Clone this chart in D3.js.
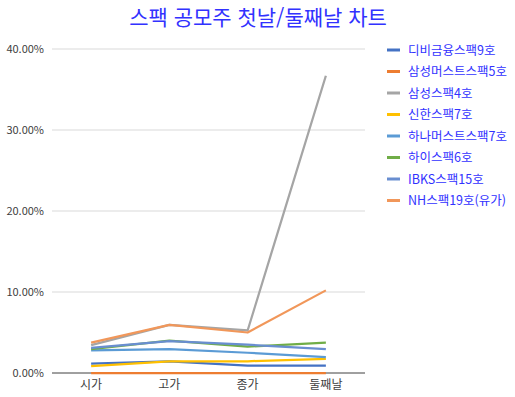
<!DOCTYPE html>
<html lang="ko">
<head>
<meta charset="UTF-8">
<title>스팩 공모주 첫날/둘째날 차트</title>
<script src="https://d3js.org/d3.v7.min.js"></script>
<style>
    body { margin: 0; background: #fff; }
    svg text { font-family: "Noto Sans CJK KR", "Noto Sans", sans-serif; }
</style>
</head>
<body>
<svg id="viz"></svg>
<script>
    // data (percent)
    var categories = ['시가', '고가', '종가', '둘째날'];
    var seriesNames = ['디비금융스팩9호', '삼성머스트스팩5호', '삼성스팩4호', '신한스팩7호',
        '하나머스트스팩7호', '하이스팩6호', 'IBKS스팩15호', 'NH스팩19호(유가)'];
    var db9 = [1.15, 1.45, 0.9, 0.9];
    var samsungMust5 = [0, 0, 0, 0];
    var samsung4 = [3.45, 5.95, 5.25, 36.7];
    var shinhan7 = [0.85, 1.45, 1.45, 1.75];
    var hanaMust7 = [2.8, 2.95, 2.5, 1.95];
    var hi6 = [2.95, 4.0, 3.25, 3.75];
    var ibks15 = [3.1, 3.95, 3.5, 2.95];
    var nh19 = [3.75, 5.95, 5.0, 10.2];
    var yTicks = [0, 10, 20, 30, 40];
    var colors = ['#4472C4', '#ED7D31', '#A5A5A5', '#FFC000', '#5B9BD5', '#70AD47', '#698ED0', '#F1975A'];

    var allSeries = [db9, samsungMust5, samsung4, shinhan7, hanaMust7, hi6, ibks15, nh19];

    var width = 515, height = 397;
    var svg = d3.select('#viz').attr('width', width).attr('height', height);

    var plotLeft = 52, plotRight = 365, plotTop = 49, plotBottom = 373;

    var x = d3.scalePoint().domain(categories).range([plotLeft, plotRight]).padding(0.5);
    var y = d3.scaleLinear().domain([0, 40]).range([plotBottom, plotTop]);

    // title
    svg.append('text')
        .attr('x', 258).attr('y', 25)
        .attr('text-anchor', 'middle')
        .attr('font-size', 21)
        .attr('fill', '#3232FF')
        .text('스팩 공모주 첫날/둘째날 차트');

    // gridlines
    svg.selectAll('.grid')
        .data(yTicks.filter(function (d) { return d > 0; }))
        .enter().append('line')
        .attr('x1', plotLeft).attr('x2', plotRight)
        .attr('y1', function (d) { return y(d); })
        .attr('y2', function (d) { return y(d); })
        .attr('stroke', '#D9D9D9').attr('stroke-width', 1);

    // y labels
    svg.selectAll('.ylab')
        .data(yTicks)
        .enter().append('text')
        .attr('x', 44)
        .attr('y', function (d) { return y(d) + 4; })
        .attr('text-anchor', 'end')
        .attr('font-size', 11)
        .attr('fill', '#404040')
        .text(function (d) { return d.toFixed(2) + '%'; });

    // x labels
    svg.selectAll('.xlab')
        .data(categories)
        .enter().append('text')
        .attr('x', function (d) { return x(d); })
        .attr('y', 389)
        .attr('text-anchor', 'middle')
        .attr('font-size', 12)
        .attr('fill', '#404040')
        .text(function (d) { return d; });

    // baseline
    svg.append('line')
        .attr('x1', plotLeft).attr('x2', plotRight)
        .attr('y1', y(0)).attr('y2', y(0))
        .attr('stroke', '#404040').attr('stroke-width', 1);

    var line = d3.line()
        .x(function (d, i) { return x(categories[i]); })
        .y(function (d) { return y(d); });

    svg.selectAll('.series')
        .data(allSeries)
        .enter().append('path')
        .attr('d', line)
        .attr('fill', 'none')
        .attr('stroke', function (d, i) { return colors[i]; })
        .attr('stroke-width', 2.25)
        .attr('stroke-linejoin', 'round');

    // legend
    var legend = svg.selectAll('.legend')
        .data(seriesNames)
        .enter().append('g')
        .attr('transform', function (d, i) { return 'translate(387,' + (50 + i * 21.5) + ')'; });

    legend.append('line')
        .attr('x1', 0).attr('x2', 13)
        .attr('stroke', function (d, i) { return colors[i]; })
        .attr('stroke-width', 3);

    legend.append('text')
        .attr('x', 21).attr('y', 4.5)
        .attr('font-size', 12.5)
        .attr('fill', '#3232FF')
        .text(function (d) { return d; });
</script>
</body>
</html>
